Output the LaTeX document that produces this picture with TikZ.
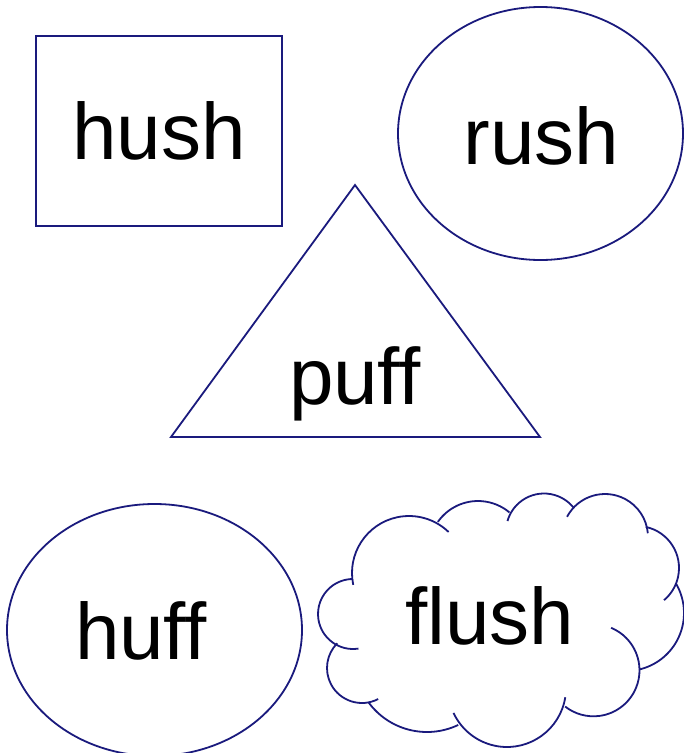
\documentclass[tikz,border=0pt]{standalone}
\usepackage{fontspec}
\setmainfont{Liberation Sans}
\definecolor{shapeblue}{RGB}{26,26,125}

\begin{document}
\begin{tikzpicture}[x=1pt,y=-1pt,
  shapeline/.style={draw=shapeblue, line width=1.8pt},
  word/.style={font=\fontsize{80}{96}\selectfont, anchor=base, inner sep=0pt}]
\path[use as bounding box, fill=white] (0,0) rectangle (684,753);
% Drawing shapes
% Box: hush
\draw[shapeline] (36,36) rectangle (282,226);
% Oval: rush
\draw[shapeline] (540.5,133.5) ellipse[x radius=142.5, y radius=126.5];
% Triangle: puff
\draw[shapeline, line join=miter] (355,185) -- (540,437) -- (171,437) -- cycle;
% Oval: huff
\draw[shapeline] (154.5,630) ellipse[x radius=147.5, y radius=126];
% Cloud: flush, one arc per puff
\draw[shapeline] (409,573) ++(168:57) arc[start angle=168, end angle=314, radius=57];
\draw[shapeline] (478,550) ++(215:49) arc[start angle=215, end angle=310, radius=49];
\draw[shapeline] (544,531.5) ++(196:38) arc[start angle=196, end angle=322, radius=38];
\draw[shapeline] (605,537) ++(208:43) arc[start angle=208, end angle=355, radius=43];
\draw[shapeline] (637,568) ++(282:42) arc[start angle=282, end angle=410, radius=42];
\draw[shapeline] (626,613) ++(329:58) arc[start angle=329, end angle=437, radius=58];
\draw[shapeline] (593.5,670.3) ++(292.5:46) arc[start angle=292.5, end angle=488, radius=46];
\draw[shapeline] (507,688) ++(9:59) arc[start angle=9, end angle=155, radius=59];
\draw[shapeline] (427,659.5) ++(64.5:72.5) arc[start angle=64.5, end angle=144, radius=72.5];
\draw[shapeline] (362,668) ++(62.5:35) arc[start angle=62.5, end angle=225, radius=35];
\draw[shapeline] (353,614) ++(81:35) arc[start angle=81, end angle=270, radius=35];
% Done with shapes; drawing labels
\node[word] (hush) at (159,159.5) {hush};
\node[word] (rush) at (541.5,164) {rush};
\node[word] (puff) at (355,404.5) {puff};
\node[word] (huff) at (141,659) {huff};
\node[word] (flush) at (489.5,644) {flush};
% Done with labels
\end{tikzpicture}
\end{document}
